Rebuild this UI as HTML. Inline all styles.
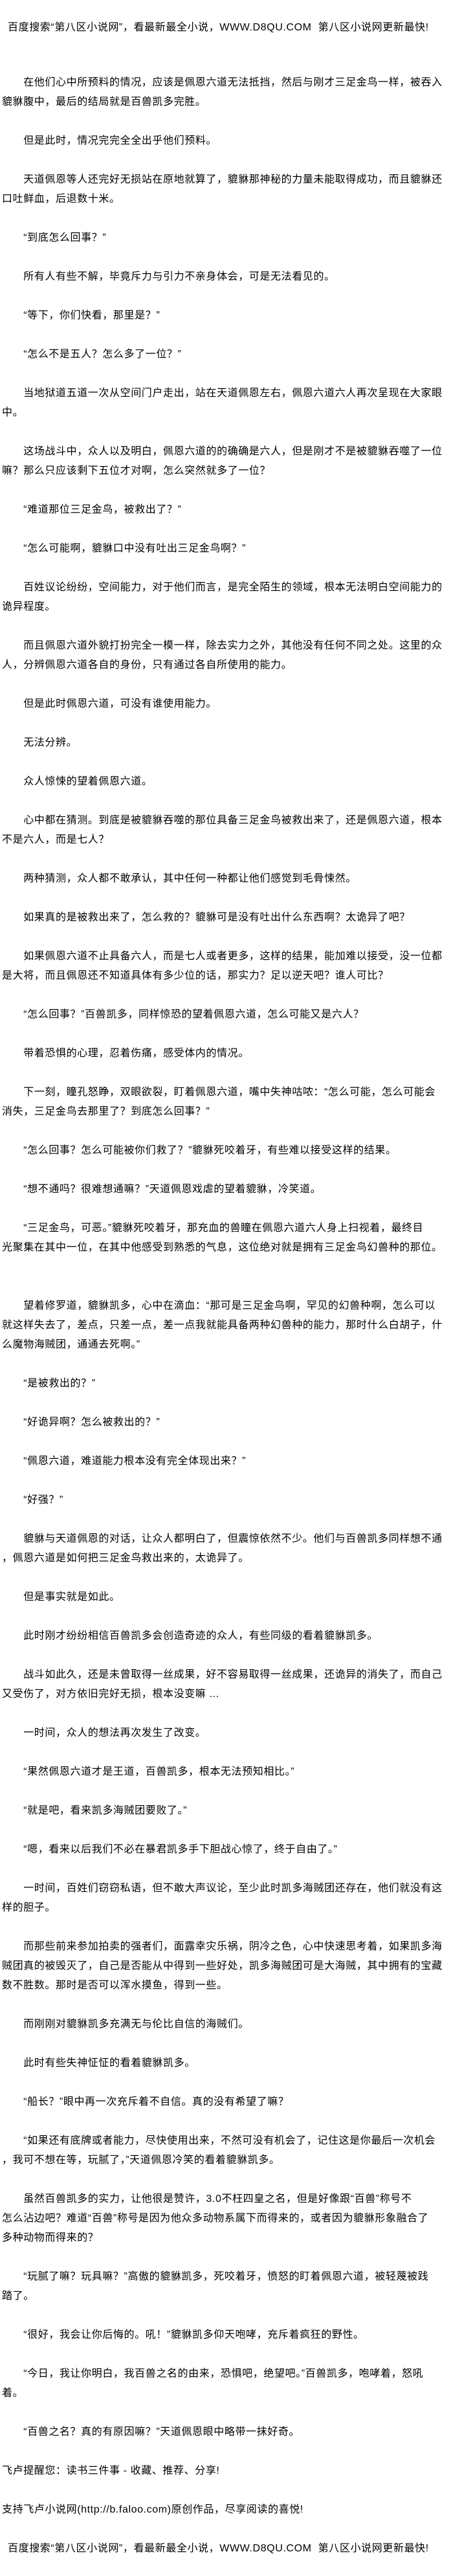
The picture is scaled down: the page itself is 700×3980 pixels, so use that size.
<!DOCTYPE html>
<html><head><meta charset="utf-8"><style>
html,body{margin:0;padding:0;background:#fff;}
body{width:700px;height:3980px;position:relative;overflow:hidden;color:#000;
font-family:"Liberation Sans","Noto Sans CJK SC",sans-serif;font-size:16px;letter-spacing:0.6px;}
#hd{position:absolute;left:12px;top:28px;line-height:30px;white-space:pre;}
#bd{position:absolute;left:3px;top:113px;width:697px;}
#bd div{height:30px;line-height:30px;white-space:pre;overflow:visible;}
</style></head><body>
<div id="hd">百度搜索“第八区小说网”，看最新最全小说，WWW.D8QU.COM  第八区小说网更新最快!</div>
<div id="bd">
<div>　　在他们心中所预料的情况，应该是佩恩六道无法抵挡，然后与刚才三足金鸟一样，被吞入</div>
<div>貔貅腹中，最后的结局就是百兽凯多完胜。</div>
<div></div>
<div>　　但是此时，情况完完全全出乎他们预料。</div>
<div></div>
<div>　　天道佩恩等人还完好无损站在原地就算了，貔貅那神秘的力量未能取得成功，而且貔貅还</div>
<div>口吐鲜血，后退数十米。</div>
<div></div>
<div>　　“到底怎么回事？”</div>
<div></div>
<div>　　所有人有些不解，毕竟斥力与引力不亲身体会，可是无法看见的。</div>
<div></div>
<div>　　“等下，你们快看，那里是？”</div>
<div></div>
<div>　　“怎么不是五人？怎么多了一位？”</div>
<div></div>
<div>　　当地狱道五道一次从空间门户走出，站在天道佩恩左右，佩恩六道六人再次呈现在大家眼</div>
<div>中。</div>
<div></div>
<div>　　这场战斗中，众人以及明白，佩恩六道的的确确是六人，但是刚才不是被貔貅吞噬了一位</div>
<div>嘛？那么只应该剩下五位才对啊，怎么突然就多了一位？</div>
<div></div>
<div>　　“难道那位三足金鸟，被救出了？”</div>
<div></div>
<div>　　“怎么可能啊，貔貅口中没有吐出三足金鸟啊？”</div>
<div></div>
<div>　　百姓议论纷纷，空间能力，对于他们而言，是完全陌生的领域，根本无法明白空间能力的</div>
<div>诡异程度。</div>
<div></div>
<div>　　而且佩恩六道外貌打扮完全一模一样，除去实力之外，其他没有任何不同之处。这里的众</div>
<div>人，分辨佩恩六道各自的身份，只有通过各自所使用的能力。</div>
<div></div>
<div>　　但是此时佩恩六道，可没有谁使用能力。</div>
<div></div>
<div>　　无法分辨。</div>
<div></div>
<div>　　众人惊悚的望着佩恩六道。</div>
<div></div>
<div>　　心中都在猜测。到底是被貔貅吞噬的那位具备三足金鸟被救出来了，还是佩恩六道，根本</div>
<div>不是六人，而是七人？</div>
<div></div>
<div>　　两种猜测，众人都不敢承认，其中任何一种都让他们感觉到毛骨悚然。</div>
<div></div>
<div>　　如果真的是被救出来了，怎么救的？貔貅可是没有吐出什么东西啊？太诡异了吧？</div>
<div></div>
<div>　　如果佩恩六道不止具备六人，而是七人或者更多，这样的结果，能加难以接受，没一位都</div>
<div>是大将，而且佩恩还不知道具体有多少位的话，那实力？足以逆天吧？谁人可比？</div>
<div></div>
<div>　　“怎么回事？”百兽凯多，同样惊恐的望着佩恩六道，怎么可能又是六人？</div>
<div></div>
<div>　　带着恐惧的心理，忍着伤痛，感受体内的情况。</div>
<div></div>
<div>　　下一刻，瞳孔怒睁，双眼欲裂，盯着佩恩六道，嘴中失神咕哝：“怎么可能，怎么可能会</div>
<div>消失，三足金鸟去那里了？到底怎么回事？”</div>
<div></div>
<div>　　“怎么回事？怎么可能被你们救了？”貔貅死咬着牙，有些难以接受这样的结果。</div>
<div></div>
<div>　　“想不通吗？很难想通嘛？”天道佩恩戏虐的望着貔貅，冷笑道。</div>
<div></div>
<div>　　“三足金鸟，可恶。”貔貅死咬着牙，那充血的兽瞳在佩恩六道六人身上扫视着，最终目</div>
<div>光聚集在其中一位，在其中他感受到熟悉的气息，这位绝对就是拥有三足金鸟幻兽种的那位。</div>
<div></div>
<div></div>
<div>　　望着修罗道，貔貅凯多，心中在滴血：“那可是三足金鸟啊，罕见的幻兽种啊，怎么可以</div>
<div>就这样失去了，差点，只差一点，差一点我就能具备两种幻兽种的能力，那时什么白胡子，什</div>
<div>么魔物海贼团，通通去死啊。”</div>
<div></div>
<div>　　“是被救出的？”</div>
<div></div>
<div>　　“好诡异啊？怎么被救出的？”</div>
<div></div>
<div>　　“佩恩六道，难道能力根本没有完全体现出来？”</div>
<div></div>
<div>　　“好强？”</div>
<div></div>
<div>　　貔貅与天道佩恩的对话，让众人都明白了，但震惊依然不少。他们与百兽凯多同样想不通</div>
<div>，佩恩六道是如何把三足金鸟救出来的，太诡异了。</div>
<div></div>
<div>　　但是事实就是如此。</div>
<div></div>
<div>　　此时刚才纷纷相信百兽凯多会创造奇迹的众人，有些同级的看着貔貅凯多。</div>
<div></div>
<div>　　战斗如此久，还是未曾取得一丝成果，好不容易取得一丝成果，还诡异的消失了，而自己</div>
<div>又受伤了，对方依旧完好无损，根本没变嘛 ...</div>
<div></div>
<div>　　一时间，众人的想法再次发生了改变。</div>
<div></div>
<div>　　“果然佩恩六道才是王道，百兽凯多，根本无法预知相比。”</div>
<div></div>
<div>　　“就是吧，看来凯多海贼团要败了。”</div>
<div></div>
<div>　　“嗯，看来以后我们不必在暴君凯多手下胆战心惊了，终于自由了。”</div>
<div></div>
<div>　　一时间，百姓们窃窃私语，但不敢大声议论，至少此时凯多海贼团还存在，他们就没有这</div>
<div>样的胆子。</div>
<div></div>
<div>　　而那些前来参加拍卖的强者们，面露幸灾乐祸，阴冷之色，心中快速思考着，如果凯多海</div>
<div>贼团真的被毁灭了，自己是否能从中得到一些好处，凯多海贼团可是大海贼，其中拥有的宝藏</div>
<div>数不胜数。那时是否可以浑水摸鱼，得到一些。</div>
<div></div>
<div>　　而刚刚对貔貅凯多充满无与伦比自信的海贼们。</div>
<div></div>
<div>　　此时有些失神怔怔的看着貔貅凯多。</div>
<div></div>
<div>　　“船长？”眼中再一次充斥着不自信。真的没有希望了嘛？</div>
<div></div>
<div>　　“如果还有底牌或者能力，尽快使用出来，不然可没有机会了，记住这是你最后一次机会</div>
<div>，我可不想在等，玩腻了，”天道佩恩冷笑的看着貔貅凯多。</div>
<div></div>
<div>　　虽然百兽凯多的实力，让他很是赞许，3.0不枉四皇之名，但是好像跟“百兽”称号不</div>
<div>怎么沾边吧？难道“百兽”称号是因为他众多动物系属下而得来的，或者因为貔貅形象融合了</div>
<div>多种动物而得来的？</div>
<div></div>
<div>　　“玩腻了嘛？玩具嘛？”高傲的貔貅凯多，死咬着牙，愤怒的盯着佩恩六道，被轻蔑被践</div>
<div>踏了。</div>
<div></div>
<div>　　“很好，我会让你后悔的。吼！”貔貅凯多仰天咆哮，充斥着疯狂的野性。</div>
<div></div>
<div>　　“今日，我让你明白，我百兽之名的由来，恐惧吧，绝望吧。”百兽凯多，咆哮着，怒吼</div>
<div>着。</div>
<div></div>
<div>　　“百兽之名？真的有原因嘛？”天道佩恩眼中略带一抹好奇。</div>
<div></div>
<div>飞卢提醒您：读书三件事 - 收藏、推荐、分享!</div>
<div></div>
<div>支持飞卢小说网(http://b.faloo.com)原创作品，尽享阅读的喜悦!</div>
<div></div>
<div style="padding-left:9px">百度搜索“第八区小说网”，看最新最全小说，WWW.D8QU.COM  第八区小说网更新最快!</div>
</div>
</body></html>
